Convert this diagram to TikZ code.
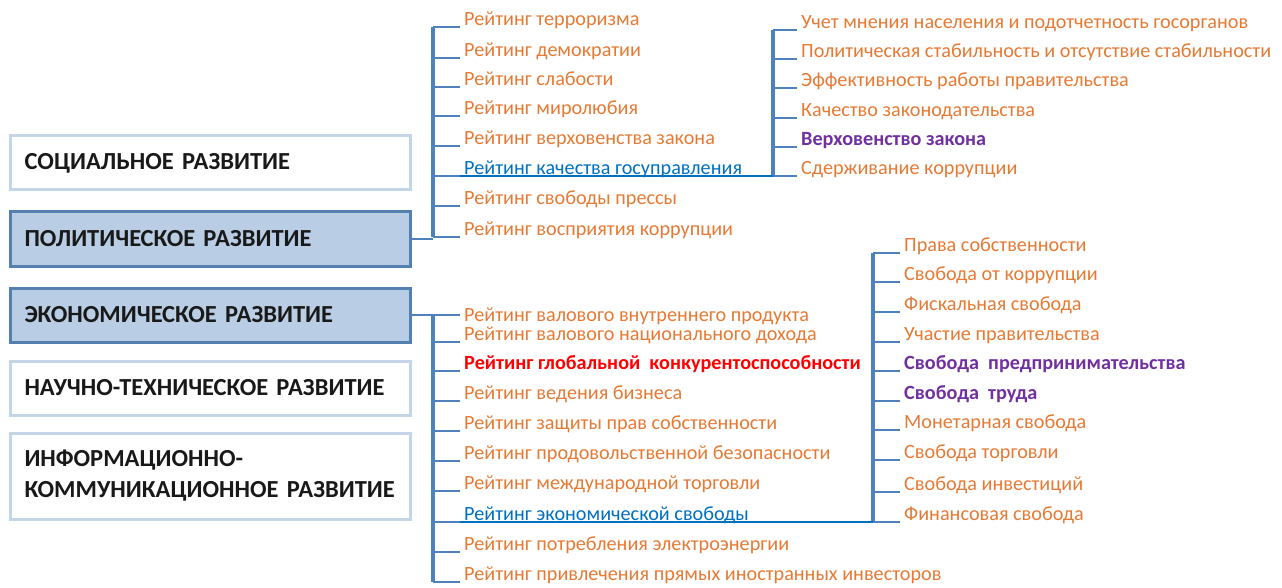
\documentclass[tikz,border=0pt]{standalone}
\usepackage{fontspec}
\setmainfont{Carlito}
\usepackage{xcolor}
\usetikzlibrary{positioning}
\definecolor{barblue}{RGB}{79,129,189}
\definecolor{boxfill}{RGB}{185,205,228}
\definecolor{boxline}{RGB}{84,128,176}
\definecolor{paleline}{RGB}{196,213,232}
\definecolor{itemorange}{RGB}{230,122,52}
\definecolor{linkblue}{RGB}{0,112,192}
\definecolor{keyred}{RGB}{255,0,0}
\definecolor{keypurple}{RGB}{112,48,160}

\tikzset{
  sector/.style={draw=paleline, line width=3pt, fill=white, anchor=west,
    minimum width=400pt, minimum height=54pt, text width=372pt, inner xsep=14pt,
    align=left, text=black!90, font=\fontsize{24.5}{31}\selectfont\bfseries},
  keybox/.style={draw=boxline, fill=boxfill},
  item/.style={anchor=south west, inner xsep=4pt, inner ysep=0pt,
    text height=14pt, text depth=1pt, font=\fontsize{20.2}{23}\selectfont},
  plain/.style={text=itemorange},
  link/.style={text=linkblue},
  keyr/.style={text=keyred, font=\fontsize{20.2}{23}\selectfont\bfseries},
  keyp/.style={text=keypurple, font=\fontsize{20.2}{23}\selectfont\bfseries},
  bar/.style={draw=barblue, line width=4pt},
  tick/.style={draw=barblue, line width=1.6pt}
}

\begin{document}
\begin{tikzpicture}[x=1pt, y=-1pt]

% Canvas
\useasboundingbox (0,0) rectangle (1282,588);

% Sectors
\node[sector] (soc) at (9,163) {СОЦИАЛЬНОЕ РАЗВИТИЕ};
\node[sector, keybox] (pol) at (9,239) {ПОЛИТИЧЕСКОЕ РАЗВИТИЕ};
\node[sector, keybox] (econ) at (9,315) {ЭКОНОМИЧЕСКОЕ РАЗВИТИЕ};
\node[sector] (sci) at (9,388) {НАУЧНО-ТЕХНИЧЕСКОЕ РАЗВИТИЕ};
\node[sector, minimum height=86pt] (info) at (9,476)
  {ИНФОРМАЦИОННО-\\КОММУНИКАЦИОННОЕ РАЗВИТИЕ};

% Bracket positions
\coordinate (pbar) at (433,0);
\coordinate (gbar) at (773,0);
\coordinate (ebar) at (433,0);
\coordinate (fbar) at (873,0);

% Political ratings
\foreach \i/\t/\s/\txt in {
1/27/plain/Рейтинг терроризма,
2/58/plain/Рейтинг демократии,
3/87/plain/Рейтинг слабости,
4/116/plain/Рейтинг миролюбия,
5/146/plain/Рейтинг верховенства закона,
6/176/link/Рейтинг качества госуправления,
7/206/plain/Рейтинг свободы прессы,
8/237/plain/Рейтинг восприятия коррупции
}{
\node[item, \s] (p\i) at (460,\t) {\txt};
\draw[tick] (pbar |- p\i.south west) -- (p\i.south west);
}
\draw[bar] (pbar |- p1.south west) -- (pbar |- p8.south west);
\draw[tick] (pol.east) -- (pbar |- pol.east);

% Governance indicators
\foreach \i/\t/\s/\txt in {
1/30/plain/Учет мнения населения и подотчетность госорганов,
2/59/plain/Политическая стабильность и отсутствие стабильности,
3/88/plain/Эффективность работы правительства,
4/118/plain/Качество законодательства,
5/147/keyp/Верховенство закона,
6/176/plain/Сдерживание коррупции
}{
\node[item, \s] (g\i) at (797,\t) {\txt};
\draw[tick] (gbar |- g\i.south west) -- (g\i.south west);
}
\draw[bar] (gbar |- g1.south west) -- (gbar |- g6.south west);
\draw[tick, draw=linkblue] (p6.south west) -- (gbar |- p6.south west);

% Economic ratings
\node[item, plain, anchor=west] (e1) at (460,315) {Рейтинг валового внутреннего продукта};
\draw[tick] (econ.east) -- (e1.west);
\foreach \i/\t/\s/\txt in {
2/342/plain/Рейтинг валового национального дохода,
3/371/keyr/Рейтинг глобальной\ \ конкурентоспособности,
4/401/plain/Рейтинг ведения бизнеса,
5/431/plain/Рейтинг защиты прав собственности,
6/461/plain/Рейтинг продовольственной безопасности,
7/491/plain/Рейтинг международной торговли,
8/522/link/Рейтинг экономической свободы,
9/552/plain/Рейтинг потребления электроэнергии,
10/582/plain/Рейтинг привлечения прямых иностранных инвесторов
}{
\node[item, \s] (e\i) at (460,\t) {\txt};
\draw[tick] (ebar |- e\i.south west) -- (e\i.south west);
}
\draw[bar] (ebar |- e1.west) -- (ebar |- e10.south west);

% Economic freedom components
\foreach \i/\t/\s/\txt in {
1/253/plain/Права собственности,
2/282/plain/Свобода от коррупции,
3/312/plain/Фискальная свобода,
4/342/plain/Участие правительства,
5/371/keyp/Свобода\ \ предпринимательства,
6/401/keyp/Свобода\ \ труда,
7/430/plain/Монетарная свобода,
8/460/plain/Свобода торговли,
9/492/plain/Свобода инвестиций,
10/522/plain/Финансовая свобода
}{
\node[item, \s] (f\i) at (900,\t) {\txt};
\draw[tick] (fbar |- f\i.south west) -- (f\i.south west);
}
\draw[bar] (fbar |- f1.south west) -- (fbar |- f10.south west);
\draw[tick, draw=linkblue] (e8.south west) -- (fbar |- e8.south west);

\end{tikzpicture}
\end{document}
